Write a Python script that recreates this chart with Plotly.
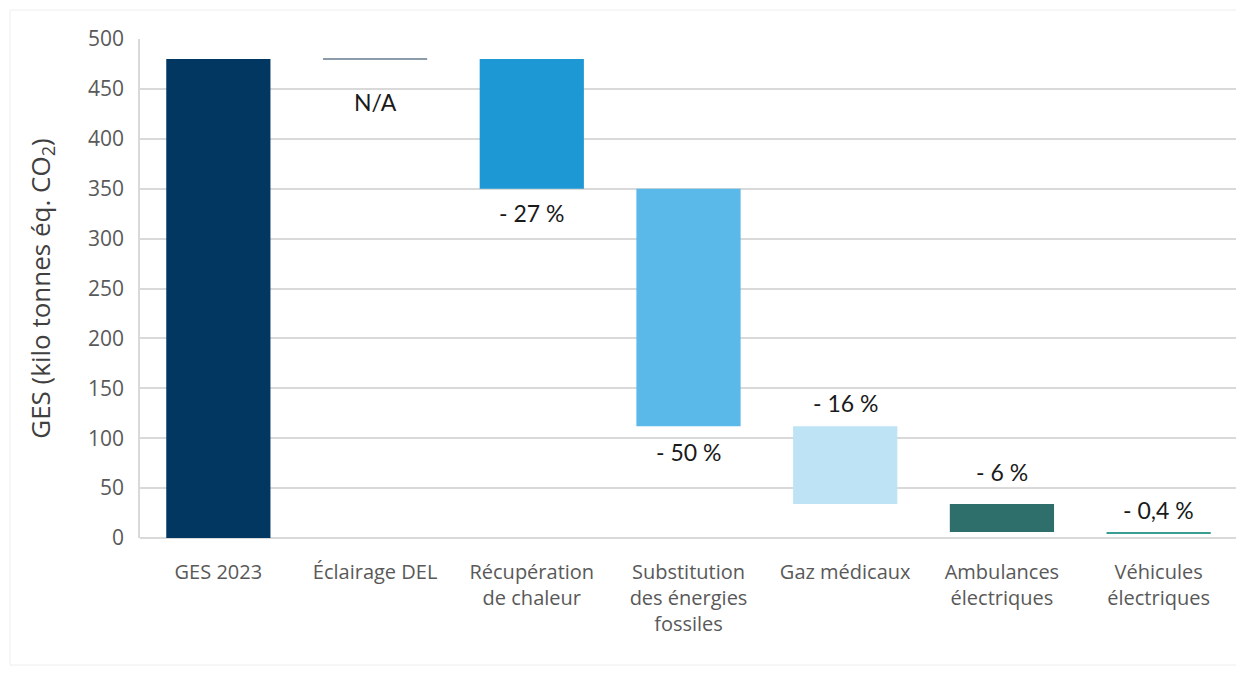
import plotly.graph_objects as go

categories = ["GES 2023", "Éclairage DEL", "Récupération<br>de chaleur",
              "Substitution<br>des énergies<br>fossiles", "Gaz médicaux",
              "Ambulances<br>électriques", "Véhicules<br>électriques"]
bar_top = [480, 481, 480, 350, 112, 34, 6]
bar_bottom = [0, 479, 350, 112, 34, 6, 4]
labels = ["", "N/A", "- 27 %", "- 50 %", "- 16 %", "- 6 %", "- 0,4 %"]
y_ticks = [0, 50, 100, 150, 200, 250, 300, 350, 400, 450, 500]

colors = ["#023761", "#8d9caa", "#1e98d5", "#5bb9ea", "#bde3f5", "#2e6f6c", "#3a9d92"]
# label placement: (anchor at bottom/top of bar, pixel shift)
label_place = [None, ("bottom", -42), ("bottom", -24), ("bottom", -26),
               ("top", 23), ("top", 32), ("top", 22)]

heights = [t - b for t, b in zip(bar_top, bar_bottom)]

fig = go.Figure()
fig.add_trace(go.Bar(
    x=categories, y=heights, base=bar_bottom,
    marker=dict(color=colors, line=dict(width=0)),
    width=0.665, hoverinfo="skip", showlegend=False,
))

annotations = []
for cat, lab, t, b, pl in zip(categories, labels, bar_top, bar_bottom, label_place):
    if not lab:
        continue
    where, shift = pl
    yv = b if where == "bottom" else t
    annotations.append(dict(
        x=cat, y=yv, xref="x", yref="y", text=lab, showarrow=False,
        yanchor="middle", yshift=shift,
        font=dict(family="Lato, Open Sans, sans-serif", size=23, color="#1a1a1a"),
    ))

# page has 8px body margin
W, H = 1236, 667
L, R, T, B = 132, 7, 31, 137
pw, ph = W - L - R, H - T - B

fig.update_layout(
    width=W, height=H,
    margin=dict(l=L, r=R, t=T, b=B),
    paper_bgcolor="white", plot_bgcolor="white",
    annotations=annotations,
    shapes=[dict(type="rect", xref="paper", yref="paper",
                 x0=(2 - L) / pw, x1=(1235 - L) / pw,
                 y0=(ph + T - 657) / ph, y1=(ph + T - 2) / ph,
                 line=dict(color="#eeeeee", width=1), layer="below")],
    xaxis=dict(
        tickfont=dict(family="Open Sans, sans-serif", size=20, color="#595959"),
        showgrid=False, showline=False, ticks="", ticklabelstandoff=20,
    ),
    yaxis=dict(
        range=[0, 500], tickvals=y_ticks,
        tickfont=dict(family="Open Sans, sans-serif", size=21, color="#595959"),
        showgrid=True, gridcolor="#d9d9d9", gridwidth=1.5,
        showline=True, linecolor="#d9d9d9", linewidth=1.5,
        zeroline=True, zerolinecolor="#d9d9d9", zerolinewidth=1.5,
        ticks="", ticklabelstandoff=10,
        title=dict(text="GES (kilo tonnes éq. CO<sub>2</sub>)",
                   font=dict(family="Open Sans, sans-serif", size=26, color="#404040"),
                   standoff=30),
    ),
    bargap=0.335,
)

fig.write_html("out.html")
